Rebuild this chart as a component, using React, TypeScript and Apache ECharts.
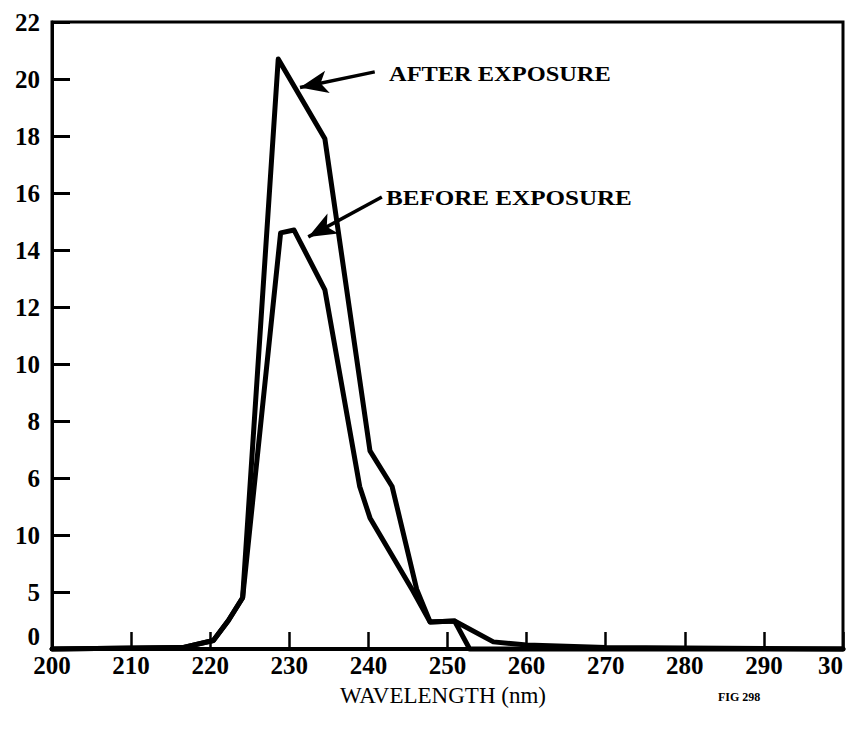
import React, { useEffect, useRef } from "react";
import * as echarts from "echarts";

const afterX = [200, 216.5, 220.4, 222.3, 224.1, 228.6, 234.5, 240.2, 243.0, 246.1, 247.8, 250.9, 252.8, 300];
const afterY = [0, 0.05, 0.3, 1.0, 1.8, 20.7, 17.9, 6.95, 5.7, 2.1, 0.95, 0.98, 0, 0];

const beforeX = [200, 216.5, 220.4, 222.3, 224.1, 228.9, 230.6, 234.5, 238.9, 240.2, 245.6, 247.8, 250.9, 255.8, 260, 270, 300];
const beforeY = [0, 0.05, 0.3, 1.0, 1.8, 14.6, 14.7, 12.6, 5.7, 4.6, 2.05, 0.95, 0.98, 0.25, 0.14, 0.05, 0];

const yTickValues = [0, 2, 4, 6, 8, 10, 12, 14, 16, 18, 20, 22];
const yTickLabels = ["0", "5", "10", "6", "8", "10", "12", "14", "16", "18", "20", "22"];

const afterArrow = [[240.8, 20.25], [231.35, 19.7]];
const beforeArrow = [[241.7, 15.86], [232.4, 14.46]];

const SERIF = '"Liberation Serif", "Times New Roman", serif';

export default function App() {
  const ref = useRef<HTMLDivElement>(null);
  useEffect(() => {
    if (!ref.current) return;
    const chart = echarts.init(ref.current, null, { renderer: "svg" });
    const zip = (xs: number[], ys: number[]) => xs.map((x, i) => [x, ys[i]]);
    const arrowLine = (pts: number[][]) => ({
      silent: true,
      animation: false,
      label: { show: false },
      lineStyle: { color: "#000", width: 3.5, type: "solid" },
      symbolSize: [17, 28],
      data: [[
        { coord: pts[0], symbol: "none" },
        { coord: pts[1], symbol: "arrow" },
      ]],
    });
    chart.setOption({
      animation: false,
      backgroundColor: "#fff",
      grid: {
        left: 52, right: 4, top: 22, bottom: 88,
        show: true, borderColor: "#000", borderWidth: 3,
      },
      xAxis: {
        type: "value", min: 200, max: 300, interval: 10,
        axisLine: { show: true, lineStyle: { color: "#000", width: 4 } },
        axisTick: { show: true, inside: true, length: 17, lineStyle: { color: "#000", width: 2.5 } },
        splitLine: { show: false },
        axisLabel: {
          color: "#000", fontFamily: SERIF, fontWeight: "bold", fontSize: 25, margin: 4,
          alignMaxLabel: "right",
          formatter: (v: number) => (v === 300 ? "30" : String(v)),
        },
      },
      yAxis: {
        type: "value", min: 0, max: 22, interval: 2,
        axisLine: { show: true, lineStyle: { color: "#000", width: 3 } },
        axisTick: { show: true, inside: true, length: 18, lineStyle: { color: "#000", width: 3 } },
        splitLine: { show: false },
        axisLabel: {
          color: "#000", fontFamily: SERIF, fontWeight: "bold", fontSize: 25, margin: 12,
          verticalAlignMinLabel: "bottom",
          formatter: (v: number) => {
            const i = yTickValues.indexOf(v);
            return i >= 0 ? yTickLabels[i] : "";
          },
        },
      },
      series: [
        {
          name: "AFTER EXPOSURE", type: "line", data: zip(afterX, afterY),
          symbol: "none", clip: false, z: 5,
          lineStyle: { color: "#000", width: 5, join: "round", cap: "round" },
          markLine: arrowLine(afterArrow),
        },
        {
          name: "BEFORE EXPOSURE", type: "line", data: zip(beforeX, beforeY),
          symbol: "none", clip: false, z: 5,
          lineStyle: { color: "#000", width: 5, join: "round", cap: "round" },
          markLine: arrowLine(beforeArrow),
        },
      ],
      graphic: [
        {
          type: "text", x: 389, y: 73, scaleX: 1.11,
          style: { text: "AFTER EXPOSURE", font: `bold 22px ${SERIF}`, fill: "#000", textVerticalAlign: "middle" },
        },
        {
          type: "text", x: 386, y: 198, scaleX: 1.14,
          style: { text: "BEFORE EXPOSURE", font: `bold 22px ${SERIF}`, fill: "#000", textVerticalAlign: "middle" },
        },
        {
          type: "text", x: 443, y: 695,
          style: { text: "WAVELENGTH (nm)", font: `23px ${SERIF}`, fill: "#000", textAlign: "center", textVerticalAlign: "middle" },
        },
        {
          type: "text", x: 718, y: 697,
          style: { text: "FIG 298", font: `bold 12px ${SERIF}`, fill: "#000", textVerticalAlign: "middle" },
        },
      ],
    });
    return () => chart.dispose();
  }, []);
  return (
    <div
      ref={ref}
      style={{ position: "absolute", left: 0, top: 0, width: 847, height: 737 }}
    />
  );
}
